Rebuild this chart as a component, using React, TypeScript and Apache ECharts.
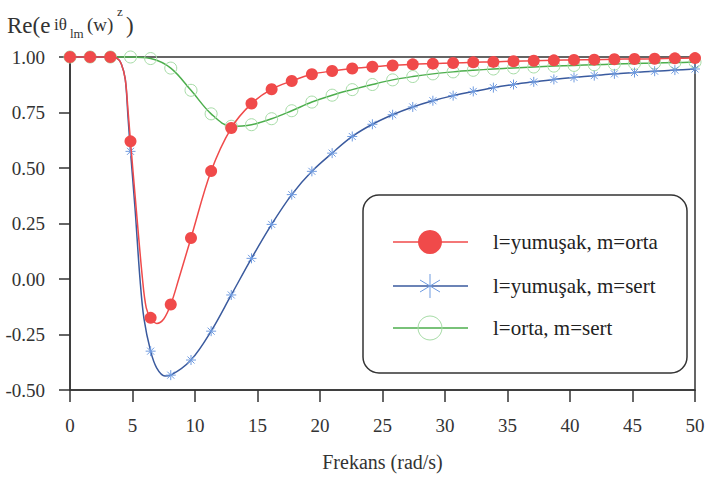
import React, { useEffect, useRef } from "react";
import * as echarts from "echarts";

// x positions of the plotted markers (rad/s)
const markerX = [0, 1.61, 3.23, 4.84, 6.45, 8.06, 9.68, 11.29, 12.9, 14.52, 16.13, 17.74, 19.35, 20.97, 22.58, 24.19, 25.81, 27.42, 29.03, 30.65, 32.26, 33.87, 35.48, 37.1, 38.71, 40.32, 41.94, 43.55, 45.16, 46.77, 48.39, 50];

// l=yumuşak, m=orta
const redY = [1, 1, 1, 0.62, -0.175, -0.115, 0.185, 0.486, 0.68, 0.79, 0.855, 0.892, 0.922, 0.937, 0.948, 0.956, 0.962, 0.967, 0.970, 0.973, 0.976, 0.978, 0.981, 0.983, 0.985, 0.987, 0.988, 0.990, 0.991, 0.992, 0.994, 0.995];
// l=yumuşak, m=sert
const blueY = [1, 1, 1, 0.575, -0.325, -0.433, -0.365, -0.235, -0.072, 0.093, 0.246, 0.38, 0.485, 0.567, 0.642, 0.697, 0.74, 0.775, 0.803, 0.826, 0.845, 0.862, 0.876, 0.888, 0.899, 0.908, 0.916, 0.924, 0.93, 0.936, 0.941, 0.946];
// l=orta, m=sert
const greenY = [1, 1, 1, 1, 0.993, 0.95, 0.85, 0.744, 0.688, 0.695, 0.722, 0.758, 0.797, 0.828, 0.853, 0.876, 0.897, 0.912, 0.924, 0.933, 0.94, 0.946, 0.951, 0.955, 0.959, 0.962, 0.965, 0.968, 0.971, 0.973, 0.975, 0.977];

// additional curve points read between markers (no marker drawn)
const redCurveX = [3.75, 4.1, 4.42, 4.64, 5.2, 5.8, 6.1, 6.95, 7.5, 8.7];
const redCurveY = [0.995, 0.97, 0.9, 0.76, 0.38, 0.0, -0.13, -0.2, -0.18, 0.0];
const blueCurveX = [3.75, 4.1, 4.42, 4.64, 5.2, 5.6, 5.92, 6.93, 7.6];
const blueCurveY = [0.995, 0.97, 0.9, 0.73, 0.32, 0.0, -0.18, -0.4, -0.437];

const seriesNames = ["l=yumuşak, m=orta", "l=yumuşak, m=sert", "l=orta, m=sert"];

const SERIF = "Liberation Serif";
const RED = "#f04a4a";
const BLUE_LINE = "#3a5a9e";
const BLUE_MARK = "#6f9be0";
const GREEN_LINE = "#4cae4c";
const GREEN_MARK = "#a6dca6";

function buildData(xs: number[], ys: number[], cx: number[], cy: number[]) {
  const pts: any[] = xs.map((x, i) => ({ value: [x, ys[i]] }));
  cx.forEach((x, i) => pts.push({ value: [x, cy[i]], symbol: "none" }));
  pts.sort((a, b) => a.value[0] - b.value[0]);
  return pts;
}

const ASTERISK = "path://M5 0L5 10M0 5L10 5M1.5 1.5L8.5 8.5M1.5 8.5L8.5 1.5";

function txt(text: string, x: number, y: number, size: number, fill = "#333", z = 1) {
  return {
    type: "text", x, y, z,
    style: { text, fontFamily: SERIF, fontSize: size, fill, verticalAlign: "middle" },
  };
}

export default function App() {
  const ref = useRef<HTMLDivElement>(null);
  useEffect(() => {
    const chart = echarts.init(ref.current!, null, { renderer: "svg" });
    const lx1 = 393, lx2 = 468, lmx = 430, ltx = 493;
    const rows = [242, 286, 328];
    const option: any = {
      animation: false,
      backgroundColor: "#ffffff",
      textStyle: { fontFamily: SERIF },
      grid: {
        left: 70, right: 23, top: 57, bottom: 88,
        show: true, borderColor: "#333", borderWidth: 1.5,
      },
      xAxis: {
        type: "value", min: 0, max: 50, interval: 5,
        name: "Frekans (rad/s)", nameLocation: "middle", nameGap: 62,
        nameTextStyle: { fontFamily: SERIF, fontSize: 20, color: "#333" },
        axisLine: { onZero: false, lineStyle: { color: "#333", width: 1.5 } },
        axisTick: { show: true, inside: false, length: 12, lineStyle: { color: "#333", width: 1.5 } },
        axisLabel: { fontFamily: SERIF, fontSize: 19, color: "#333", margin: 26 },
        splitLine: { show: false },
      },
      yAxis: {
        type: "value", min: -0.5, max: 1.0, interval: 0.25,
        axisLine: { show: true, onZero: false, lineStyle: { color: "#333", width: 1.5 } },
        axisTick: { show: true, inside: false, length: 11, lineStyle: { color: "#333", width: 1.5 } },
        axisLabel: { fontFamily: SERIF, fontSize: 19, color: "#333", margin: 25, formatter: (v: number) => v.toFixed(2) },
        splitLine: { show: false },
      },
      series: [
        {
          name: seriesNames[0], type: "line", smooth: 0.35, clip: false,
          data: buildData(markerX, redY, redCurveX, redCurveY),
          symbol: "circle", symbolSize: 12,
          lineStyle: { color: RED, width: 1.5 },
          itemStyle: { color: RED },
          z: 4,
        },
        {
          name: seriesNames[1], type: "line", smooth: 0.35, clip: false,
          data: buildData(markerX, blueY, blueCurveX, blueCurveY),
          symbol: ASTERISK, symbolSize: 10,
          lineStyle: { color: BLUE_LINE, width: 1.5 },
          itemStyle: { color: "rgba(0,0,0,0)", borderColor: BLUE_MARK, borderWidth: 1 },
          z: 3,
        },
        {
          name: seriesNames[2], type: "line", smooth: 0.35, clip: false,
          data: markerX.map((x, i) => [x, greenY[i]]),
          symbol: "circle", symbolSize: 12,
          lineStyle: { color: GREEN_LINE, width: 1.5 },
          itemStyle: { color: "rgba(0,0,0,0)", borderColor: GREEN_MARK, borderWidth: 1 },
          z: 2,
        },
      ],
      graphic: [
        // y-axis title: Re(e^{iθ_lm(w)^z})
        txt("Re(e", 7, 25.5, 23),
        txt("iθ", 54, 24, 17),
        txt("lm", 70, 33, 13),
        txt("(w)", 87, 24, 19),
        txt("z", 117, 11, 13),
        txt(")", 126, 25.5, 23),
        // legend box
        { type: "rect", z: 10, shape: { x: 363, y: 195, width: 324, height: 178, r: 16 }, style: { fill: "#fff", stroke: "#333", lineWidth: 1.5 } },
        { type: "line", z: 11, shape: { x1: lx1, y1: rows[0], x2: lx2, y2: rows[0] }, style: { stroke: RED, lineWidth: 1.5 } },
        { type: "circle", z: 12, shape: { cx: lmx, cy: rows[0], r: 12 }, style: { fill: RED } },
        { type: "line", z: 11, shape: { x1: lx1, y1: rows[1], x2: lx2, y2: rows[1] }, style: { stroke: BLUE_LINE, lineWidth: 1.5 } },
        { type: "line", z: 12, shape: { x1: lmx, y1: rows[1] - 12, x2: lmx, y2: rows[1] + 12 }, style: { stroke: BLUE_MARK, lineWidth: 1 } },
        { type: "line", z: 12, shape: { x1: lmx - 10, y1: rows[1] - 6, x2: lmx + 10, y2: rows[1] + 6 }, style: { stroke: BLUE_MARK, lineWidth: 1 } },
        { type: "line", z: 12, shape: { x1: lmx - 10, y1: rows[1] + 6, x2: lmx + 10, y2: rows[1] - 6 }, style: { stroke: BLUE_MARK, lineWidth: 1 } },
        { type: "line", z: 11, shape: { x1: lx1, y1: rows[2], x2: lx2, y2: rows[2] }, style: { stroke: GREEN_LINE, lineWidth: 1.5 } },
        { type: "circle", z: 12, shape: { cx: lmx, cy: rows[2], r: 12 }, style: { fill: "rgba(0,0,0,0)", stroke: GREEN_MARK, lineWidth: 1 } },
        ...seriesNames.map((n, i) => txt(n, ltx, rows[i], 21, "#222", 12)),
      ],
    };
    chart.setOption(option);
    return () => chart.dispose();
  }, []);
  return <div ref={ref} style={{ position: "absolute", left: 0, top: 0, width: 718, height: 478 }} />;
}
